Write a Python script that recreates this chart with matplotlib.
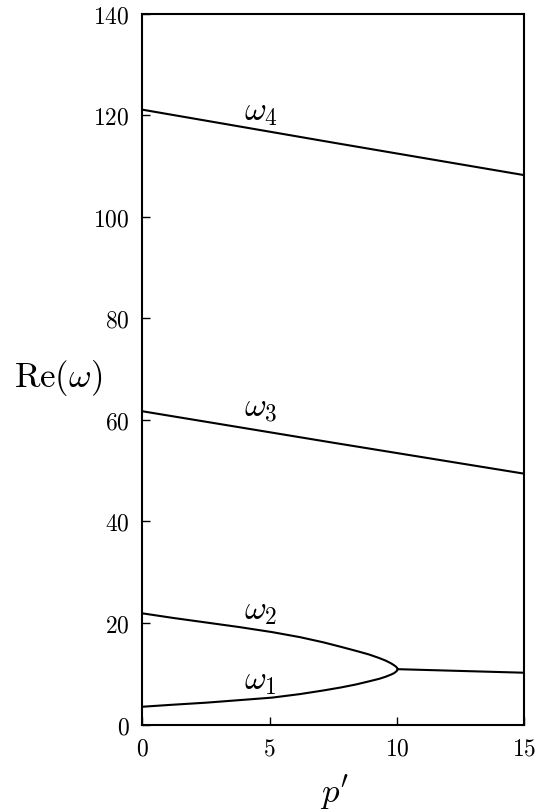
import numpy as np
import matplotlib
matplotlib.use("Agg")
import matplotlib.pyplot as plt

plt.rcParams["font.family"] = "serif"
plt.rcParams["font.serif"] = ["cmr10"]
plt.rcParams["mathtext.fontset"] = "cm"
plt.rcParams["axes.formatter.use_mathtext"] = True

# curves
p_branch = [0, 1.2, 2.5, 3.8, 5.1, 6.2, 7.1, 7.8, 8.4, 8.9, 9.3, 9.55, 9.75, 9.88, 9.96, 10.0, 10.03]
w1 = [3.5, 3.9, 4.3, 4.8, 5.3, 6.0, 6.7, 7.3, 7.9, 8.5, 9.0, 9.4, 9.8, 10.1, 10.4, 10.6, 10.9]
w2 = [21.9, 21.0, 20.1, 19.2, 18.2, 17.2, 16.2, 15.3, 14.5, 13.8, 13.1, 12.6, 12.1, 11.7, 11.4, 11.2, 10.9]
p_merged = [10.03, 15]
w12_merged = [10.9, 10.2]
p_line = [0, 7.5, 15]
w3 = [61.7, 55.5, 49.4]
w4 = [121.1, 114.6, 108.2]

labels = [r"$\omega_1$", r"$\omega_2$", r"$\omega_3$", r"$\omega_4$"]
label_y = [8.4, 22.3, 62.3, 120.5]

fig = plt.figure(figsize=(5.47, 8.12), dpi=100)
ax = fig.add_axes([0.2601, 0.1065, 0.6984, 0.8754])

lw = 1.5
ax.plot(p_branch, w1, color="black", lw=lw)
ax.plot(p_branch, w2, color="black", lw=lw)
ax.plot(p_merged, w12_merged, color="black", lw=lw)
ax.plot(p_line, w3, color="black", lw=lw)
ax.plot(p_line, w4, color="black", lw=lw)

for txt, yy in zip(labels, label_y):
    ax.text(4.0, yy, txt, fontsize=24, ha="left", va="center")

ax.set_xlim(0, 15)
ax.set_ylim(0, 140)
ax.set_xticks([0, 5, 10, 15])
ax.set_yticks(np.arange(0, 141, 20))
ax.tick_params(direction="in", length=6, width=1, labelsize=17, pad=9,
               top=False, right=False)
for s in ax.spines.values():
    s.set_linewidth(1.5)

ax.set_ylabel(r"$\mathrm{Re}(\omega)$", fontsize=25, rotation=0,
              ha="center", va="center")
ax.yaxis.set_label_coords(-0.221, 0.489)
ax.set_xlabel(r"$p'$", fontsize=25, ha="center", va="center")
ax.xaxis.set_label_coords(0.504, -0.094)

fig.savefig("out.png", dpi=100)
